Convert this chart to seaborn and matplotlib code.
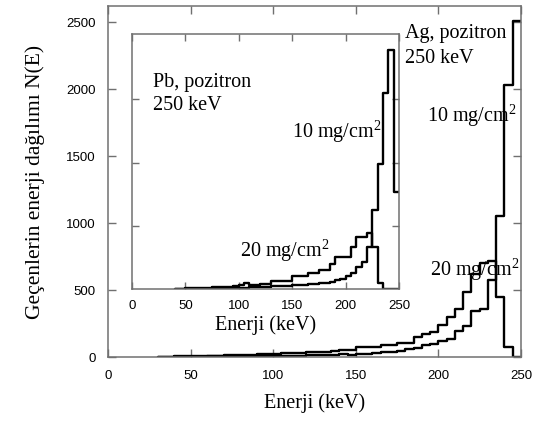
import numpy as np
import pandas as pd
import matplotlib
matplotlib.use("Agg")
import matplotlib.pyplot as plt
import seaborn as sns

# Transmitted positron energy spectra, 5 keV bins
bin_width = 5

# Ag target (main panel), bins starting at 30 keV
ag_start = 30
ag_10 = [0, 1, 2, 2, 3, 3, 4, 4, 5, 5, 6, 6, 7, 8, 8, 9, 10, 11, 12, 14, 16, 18,
         20, 16, 24, 26, 30, 38, 40, 45, 60, 64, 88, 100, 122, 132, 195, 235,
         345, 355, 575, 1050, 2030, 2510]
ag_20 = [2, 3, 4, 5, 6, 7, 8, 10, 12, 14, 16, 18, 20, 22, 25, 27, 30, 33, 36, 38,
         40, 45, 50, 55, 72, 75, 78, 88, 92, 104, 106, 149, 170, 189, 240, 298,
         358, 487, 620, 705, 716, 450, 77, 0]

# Pb target (inset), bins starting at 40 keV
pb_start = 40
pb_10 = [0, 1, 1, 2, 2, 3, 3, 4, 5, 5, 6, 7, 8, 10, 12, 14, 16, 18, 20, 22, 24,
         26, 28, 30, 32, 36, 40, 45, 50, 55, 70, 80, 100, 130, 170, 210, 333,
         622, 990, 1553, 1887, 766]
pb_20 = [2, 3, 4, 5, 6, 7, 9, 12, 14, 16, 18, 20, 30, 45, 28, 32, 40, 42, 60, 62,
         64, 66, 100, 100, 105, 126, 128, 150, 152, 197, 250, 252, 254, 330, 412,
         415, 440, 330, 45, 0, 0, 0]

x_ticks = [0, 50, 100, 150, 200, 250]
main_y_ticks = [0, 500, 1000, 1500, 2000, 2500]

sns.set_theme(style="white")
serif = "Liberation Serif"
sans = "Liberation Sans"
plt.rcParams["font.family"] = [sans, "DejaVu Sans"]
plt.rcParams["text.color"] = "black"
plt.rcParams["axes.labelcolor"] = "black"
plt.rcParams["mathtext.fontset"] = "custom"
plt.rcParams["mathtext.rm"] = serif
plt.rcParams["mathtext.it"] = serif + ":italic"
plt.rcParams["mathtext.default"] = "rm"

spine_col = "#707070"
note_size = 14.5


def spectrum_frame(start, counts):
    edges = start + bin_width * np.arange(len(counts))
    df = pd.DataFrame({"energy": edges + bin_width / 2, "count": counts})
    return df, [float(e) for e in np.append(edges, edges[-1] + bin_width)]


def draw_spectra(ax, start, series):
    for counts in series:
        df, edges = spectrum_frame(start, counts)
        sns.histplot(data=df, x="energy", weights="count", bins=edges,
                     element="step", fill=False, color="black", linewidth=1.7,
                     ax=ax)


def style_axes(ax, tick_len):
    for sp in ax.spines.values():
        sp.set_color(spine_col)
        sp.set_linewidth(1.1)
        sp.set_visible(True)
    ax.tick_params(direction="in", length=tick_len, width=1.0, color=spine_col,
                   top=True, right=True, bottom=True, left=True,
                   labelsize=9.5, labelcolor="black")
    ax.set_ylabel("")
    ax.set_xlabel("")


def note(ax, x, y, s):
    ax.text(x, y, s, transform=ax.transAxes, fontfamily=serif,
            fontsize=note_size, va="baseline", ha="left", color="black")


fig = plt.figure(figsize=(5.33, 4.23), dpi=100)

# Main panel: Ag
ax = fig.add_axes([0.2026, 0.156, 0.7749, 0.8298])
draw_spectra(ax, ag_start, [ag_10, ag_20])
ax.set_xlim(0, 250)
ax.set_ylim(0, 2620)
style_axes(ax, 6)
ax.tick_params(axis="x", pad=9.5)
ax.tick_params(axis="y", pad=9)
ax.set_xticks(x_ticks)
ax.set_yticks(main_y_ticks)
ax.set_xlabel("Enerji (keV)", fontfamily=serif, fontsize=14.5, labelpad=8,
              color="black")
ax.set_ylabel("Geçenlerin enerji dağılımı N(E)", fontfamily=serif,
              fontsize=15.5, labelpad=15, color="black")
note(ax, 0.719, 0.909, "Ag, pozitron")
note(ax, 0.719, 0.838, "250 keV")
note(ax, 0.772, 0.670, "10 mg/cm$^2$")
note(ax, 0.780, 0.231, "20 mg/cm$^2$")

# Inset: Pb
ins = fig.add_axes([0.2477, 0.3168, 0.5009, 0.604])
ins.set_facecolor("white")
draw_spectra(ins, pb_start, [pb_10, pb_20])
ins.set_xlim(0, 250)
ins.set_ylim(0, 2020)
style_axes(ins, 5)
ins.set_xticks(x_ticks)
ins.set_yticks([500, 1000, 1500])
ins.tick_params(labelleft=False)
ins.tick_params(axis="x", pad=8)
ins.set_xlabel("Enerji (keV)", fontfamily=serif, fontsize=14.5, labelpad=2,
               color="black")
note(ins, 0.079, 0.791, "Pb, pozitron")
note(ins, 0.079, 0.701, "250 keV")
note(ins, 0.598, 0.591, "10 mg/cm$^2$")
note(ins, 0.404, 0.125, "20 mg/cm$^2$")

fig.savefig("out.png", dpi=100)
